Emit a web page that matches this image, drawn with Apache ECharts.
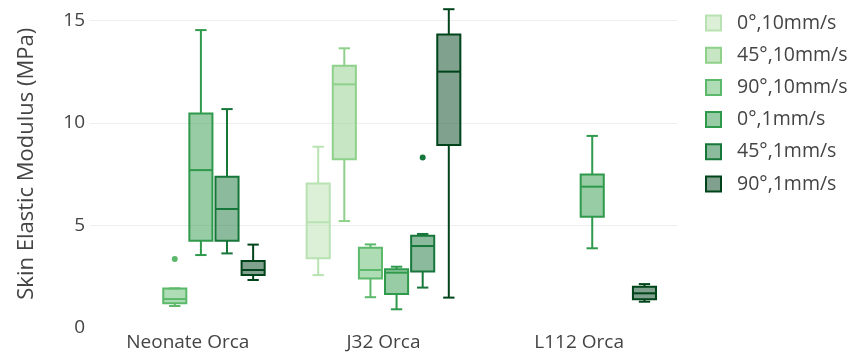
<!DOCTYPE html>
<html>
<head>
<meta charset="utf-8">
<script src="https://cdn.jsdelivr.net/npm/echarts@6.0.0/dist/echarts.min.js"></script>
<style>
  html, body { margin: 0; padding: 0; background: #fff; }
  #chart { width: 851px; height: 356px; }
</style>
</head>
<body>
<div id="chart"></div>
<script>
// categorias del eje x
const categories = ['Neonate Orca', 'J32 Orca', 'L112 Orca'];
const seriesNames = ['0°,10mm/s', '45°,10mm/s', '90°,10mm/s', '0°,1mm/s', '45°,1mm/s', '90°,1mm/s'];

// cada fila: [min, q1, mediana, q3, max] por categoria (null = sin muestra)
const deg0_10 = [null, [2.56, 3.38, 5.14, 7.04, 8.83], null];
const deg45_10 = [null, [5.20, 8.22, 11.88, 12.79, 13.64], null];
const deg90_10 = [[1.05, 1.18, 1.39, 1.91, 1.91], [1.48, 2.40, 2.81, 3.90, 4.06], null];
const deg0_1 = [[3.54, 4.24, 7.69, 10.46, 14.53], [0.89, 1.64, 2.68, 2.84, 2.97], [3.87, 5.41, 6.88, 7.48, 9.36]];
const deg45_1 = [[3.62, 4.24, 5.79, 7.37, 10.67], [1.95, 2.73, 3.98, 4.48, 4.57], null];
const deg90_1 = [[2.32, 2.56, 2.81, 3.25, 4.05], [1.46, 8.92, 12.50, 14.32, 15.55], [1.26, 1.38, 1.67, 1.99, 2.12]];

// atipicos: [indice de categoria, valor]
const out90_10 = [[0, 3.35]];
const out45_1 = [[1, 8.30]];

const boxRows = [deg0_10, deg45_10, deg90_10, deg0_1, deg45_1, deg90_1];
const outlierRows = [[], [], out90_10, [], out45_1, []];
const lineColors = ['#b9e2b2', '#8fd08a', '#5cb96b', '#2f9a4c', '#17773a', '#00441b'];

const SLOT_STEP = 0.1335;  // separacion entre cajas (fraccion de banda)
const BOX_FRAC = 0.118;
const CAP_FRAC = 0.058;

function fillOf(hex) {
  const n = parseInt(hex.slice(1), 16);
  return 'rgba(' + (n >> 16) + ',' + ((n >> 8) & 255) + ',' + (n & 255) + ',0.5)';
}

function boxRenderer(slot, color) {
  const fill = fillOf(color);
  return function (params, api) {
    const cat = api.value(0);
    const band = api.size([1, 0])[0];
    const dx = (slot - 2.5) * band * SLOT_STEP;
    const half = band * BOX_FRAC / 2;
    const capHalf = band * CAP_FRAC / 2;
    const p = [1, 2, 3, 4, 5].map(i => api.coord([cat, api.value(i)]));
    const x = p[0][0] + dx;
    const yMin = p[0][1], yQ1 = p[1][1], yMed = p[2][1], yQ3 = p[3][1], yMax = p[4][1];
    const ls = { stroke: color, lineWidth: 2 };
    return {
      type: 'group',
      children: [
        { type: 'line', shape: { x1: x, y1: yQ3, x2: x, y2: yMax }, style: ls },
        { type: 'line', shape: { x1: x, y1: yQ1, x2: x, y2: yMin }, style: ls },
        { type: 'line', shape: { x1: x - capHalf, y1: yMax, x2: x + capHalf, y2: yMax }, style: ls },
        { type: 'line', shape: { x1: x - capHalf, y1: yMin, x2: x + capHalf, y2: yMin }, style: ls },
        { type: 'rect', shape: { x: x - half, y: yQ3, width: half * 2, height: yQ1 - yQ3 },
          style: { fill: fill, stroke: color, lineWidth: 2 } },
        { type: 'line', shape: { x1: x - half, y1: yMed, x2: x + half, y2: yMed }, style: ls }
      ]
    };
  };
}

function outlierRenderer(slot, color) {
  return function (params, api) {
    const band = api.size([1, 0])[0];
    const pt = api.coord([api.value(0), api.value(1)]);
    return {
      type: 'circle',
      shape: { cx: pt[0] + (slot - 2.5) * band * SLOT_STEP, cy: pt[1], r: 3 },
      style: { fill: color }
    };
  };
}

const series = [];
seriesNames.forEach((name, s) => {
  const data = [];
  boxRows[s].forEach((row, c) => { if (row) data.push([c].concat(row)); });
  series.push({
    name: name, type: 'custom', renderItem: boxRenderer(s, lineColors[s]),
    encode: { x: 0, y: [1, 2, 3, 4, 5] },
    itemStyle: { color: fillOf(lineColors[s]), borderColor: lineColors[s] },
    data: data
  });
  if (outlierRows[s].length) {
    series.push({
      name: name, type: 'custom', renderItem: outlierRenderer(s, lineColors[s]),
      encode: { x: 0, y: 1 },
      itemStyle: { color: fillOf(lineColors[s]), borderColor: lineColors[s] },
      data: outlierRows[s]
    });
  }
});

const chart = echarts.init(document.getElementById('chart'), null, { renderer: 'canvas' });
const font = '"Open Sans", "Noto Sans", sans-serif';

chart.setOption({
  animation: false,
  textStyle: { fontFamily: font },
  grid: { left: 90, right: 174, top: 0, bottom: 28.5, containLabel: false },
  legend: {
    orient: 'vertical',
    left: 700,
    top: 8,
    itemWidth: 15,
    itemHeight: 15,
    itemGap: 12.2,
    icon: 'rect',
    textStyle: { fontSize: 19.5, color: '#444', lineHeight: 16, padding: [0, 0, 0, 11], fontFamily: font },
    data: seriesNames.map((n, i) => ({
      name: n,
      itemStyle: { color: fillOf(lineColors[i]), borderColor: lineColors[i], borderWidth: 2 }
    }))
  },
  xAxis: {
    type: 'category',
    data: categories,
    axisLine: { show: false },
    axisTick: { show: false },
    axisLabel: { fontSize: 19, color: '#444', margin: 6, fontFamily: font },
    splitLine: { show: false }
  },
  yAxis: {
    type: 'value',
    min: 0,
    max: 16,
    interval: 5,
    name: 'Skin Elastic Modulus (MPa)',
    nameLocation: 'middle',
    nameGap: 52,
    nameTextStyle: { fontSize: 22, color: '#444', fontFamily: font },
    axisLine: { show: false },
    axisTick: { show: false },
    axisLabel: { fontSize: 19, color: '#444', margin: 5, showMaxLabel: false, fontFamily: font },
    splitLine: { show: true, showMinLine: false, showMaxLine: false, lineStyle: { color: '#eeeeee', width: 1 } }
  },
  series: series
});
</script>
</body>
</html>
